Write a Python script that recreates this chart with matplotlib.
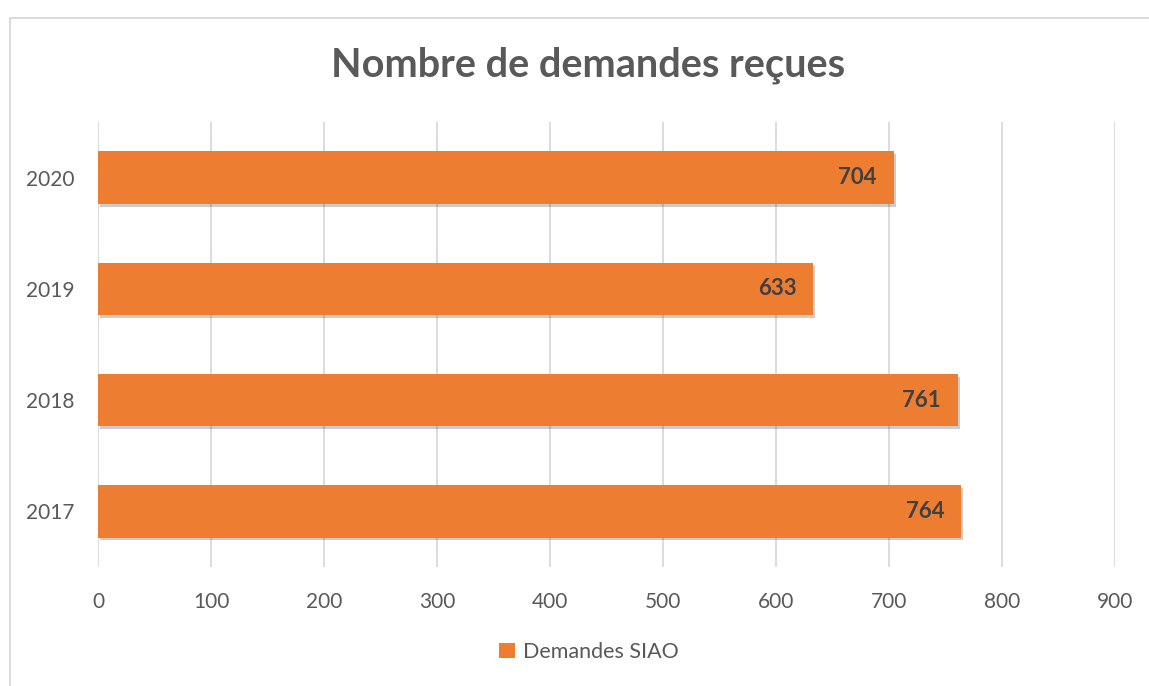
import matplotlib
matplotlib.use("Agg")
import matplotlib.pyplot as plt
from matplotlib.patches import Rectangle, Patch
import matplotlib.patheffects as pe

categories = ["2017", "2018", "2019", "2020"]
values = [764, 761, 633, 704]
series_name = "Demandes SIAO"
xticks = [0, 100, 200, 300, 400, 500, 600, 700, 800, 900]
title = "Nombre de demandes reçues"

orange = "#ED7D31"
txt = "#595959"
plt.rcParams['font.family'] = ['Lato', 'DejaVu Sans']

fig = plt.figure(figsize=(11.49, 6.86), dpi=100)
ax = fig.add_axes([98/1149, 1-567/686, (1115-98)/1149, (567-122)/686])

bars = ax.barh(range(len(categories)), values, height=0.47, color=orange, zorder=3,
               path_effects=[pe.SimplePatchShadow(offset=(1.5, -2), shadow_rgbFace="#000000", alpha=0.2),
                             pe.Normal()])
ax.set_xlim(0, 900)
ax.set_ylim(-0.5, len(categories) - 0.5)
ax.set_xticks(xticks)
ax.set_yticks(range(len(categories)))
ax.set_yticklabels(categories)
ax.grid(axis='x', color="#D9D9D9", linewidth=1.3, zorder=0)
ax.grid(axis='y', visible=False)
for s in ax.spines.values():
    s.set_visible(False)
ax.tick_params(axis='both', length=0, labelsize=15, labelcolor=txt)
ax.tick_params(axis='x', pad=18)
ax.tick_params(axis='y', pad=17)

for b, v in zip(bars, values):
    ax.text(v - 15, b.get_y() + b.get_height()/2, str(v), ha='right', va='center',
            fontsize=16, fontweight='bold', color="#404040", zorder=4)

fig.text(588/1149, 1-65/686, title, ha='center', va='center', fontsize=28.5,
         fontweight='bold', color=txt)

leg = fig.legend(handles=[Patch(facecolor=orange)], labels=[series_name], loc='center',
                 bbox_to_anchor=(589/1149, 1-652/686), frameon=False, fontsize=15.5,
                 handlelength=0.75, handleheight=0.75, handletextpad=0.35)
for t in leg.get_texts():
    t.set_color(txt)

# chart border
fig.add_artist(Rectangle((10/1149, -0.01), 1.1, 1-18/686 + 0.01, transform=fig.transFigure,
                         fill=False, edgecolor="#D9D9D9", linewidth=1.3))

fig.savefig("out.png", dpi=100)
